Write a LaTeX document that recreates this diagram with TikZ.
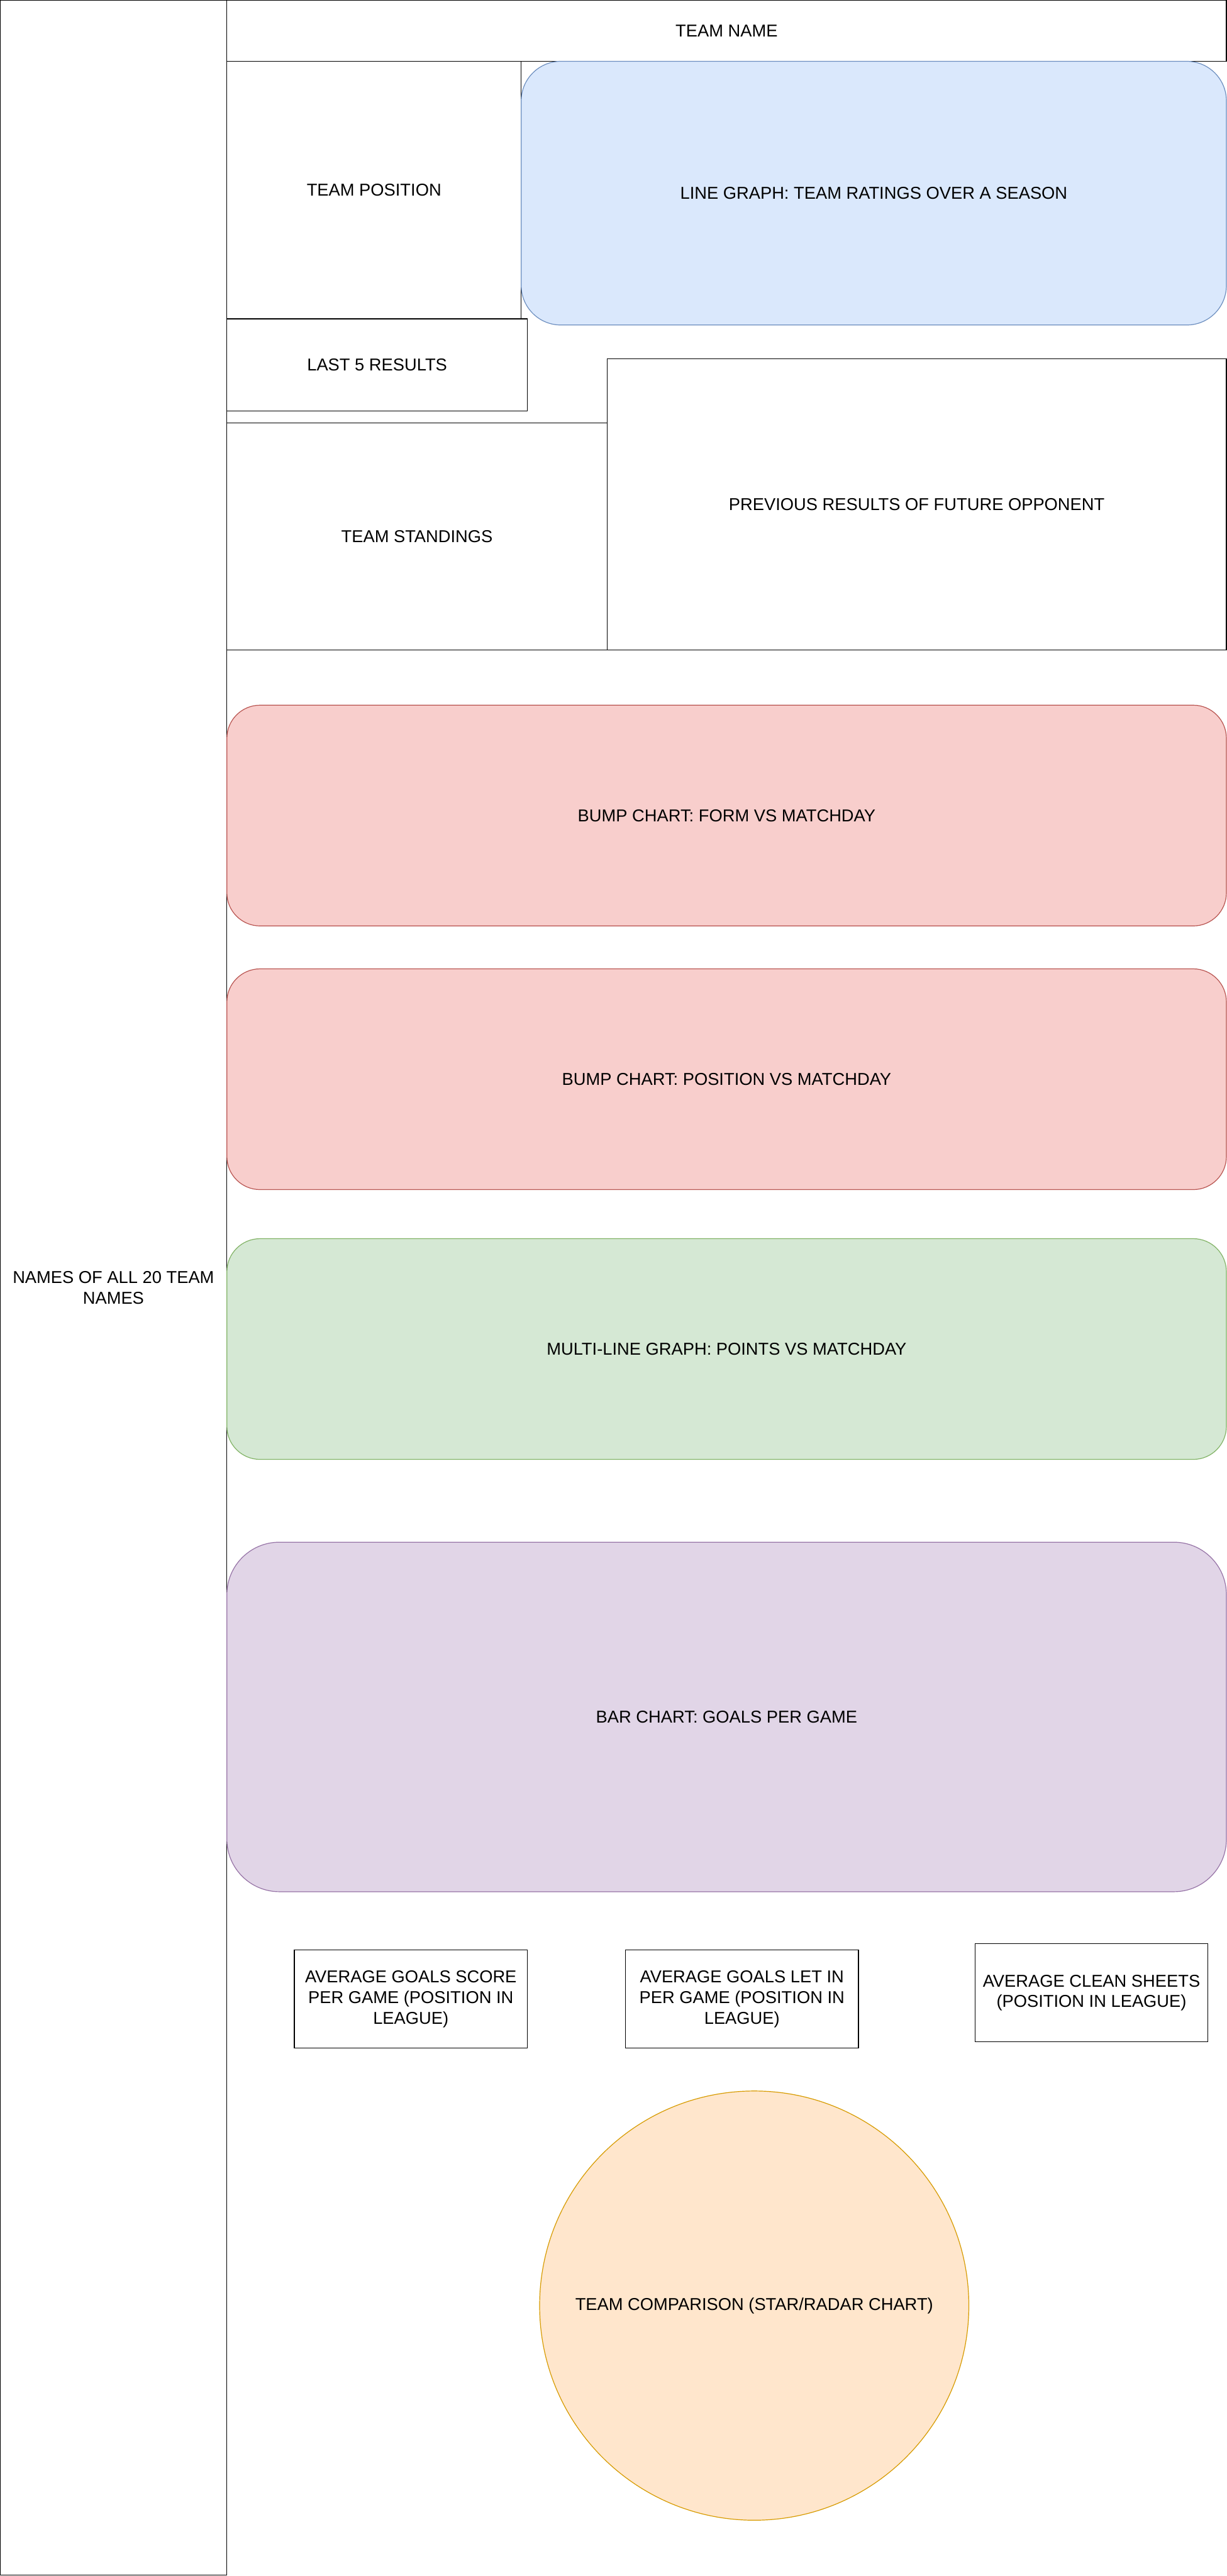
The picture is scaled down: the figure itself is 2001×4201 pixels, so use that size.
\documentclass[tikz,border=0pt]{standalone}
\usepackage{fontspec}
\setmainfont{Liberation Sans}
\usepackage{tikz}
\definecolor{ratingfill}{HTML}{DAE8FC}\definecolor{ratingline}{HTML}{6C8EBF}
\definecolor{bumpfill}{HTML}{F8CECC}\definecolor{bumpline}{HTML}{B85450}
\definecolor{pointsfill}{HTML}{D5E8D4}\definecolor{pointsline}{HTML}{82B366}
\definecolor{goalsfill}{HTML}{E1D5E7}\definecolor{goalsline}{HTML}{9673A6}
\definecolor{radarfill}{HTML}{FFE6CC}\definecolor{radarline}{HTML}{D79B00}
\begin{document}
\begin{tikzpicture}[x=.1mm,y=-.1mm,line width=.35pt,
  every node/.style={font=\fontsize{7.97}{9.56}\selectfont,inner sep=0pt,align=center},
  box/.style={draw,rectangle},
  chart/.style={draw=#1line,fill=#1fill,rectangle,rounded corners=5.4mm,minimum width=163mm,minimum height=36mm}]
\useasboundingbox (0,0) rectangle (2001,4201);
\node[box,minimum width=36.9mm,minimum height=419.9mm] (teams) at (185,2100) {NAMES OF ALL 20 TEAM\\NAMES};
\node[box,minimum width=163mm,minimum height=10mm] (teamname) at (1185,50) {TEAM NAME};
\node[box,minimum width=48mm,minimum height=42mm] (teampos) at (610,310) {TEAM POSITION};
\node[chart=rating,minimum width=115mm,minimum height=43mm,rounded corners=6.45mm] (ratings) at (1425,315) {LINE GRAPH: TEAM RATINGS OVER A SEASON};
\node[box,minimum width=49mm,minimum height=15mm] (lastfive) at (615,595) {LAST 5 RESULTS};
\node[box,minimum width=101mm,minimum height=47.5mm] (prevopp) at (1495,822.5) {PREVIOUS RESULTS OF FUTURE OPPONENT};
\node[box,minimum width=62mm,minimum height=37mm] (standings) at (680,875) {TEAM STANDINGS};
\node[chart=bump] (formbump) at (1185,1330) {BUMP CHART: FORM VS MATCHDAY};
\node[chart=bump] (posbump) at (1185,1760) {BUMP CHART: POSITION VS MATCHDAY};
\node[chart=points] (points) at (1185,2200) {MULTI-LINE GRAPH: POINTS VS MATCHDAY};
\node[chart=goals,minimum height=57mm,rounded corners=8.55mm] (goals) at (1185,2800) {BAR CHART: GOALS PER GAME};
\node[box,minimum width=38mm,minimum height=16mm] (scored) at (670,3260) {AVERAGE GOALS SCORE\\PER GAME (POSITION IN\\LEAGUE)};
\node[box,minimum width=38mm,minimum height=16mm] (letin) at (1210,3260) {AVERAGE GOALS LET IN\\PER GAME (POSITION IN\\LEAGUE)};
\node[box,minimum width=38mm,minimum height=16mm] (clean) at (1780,3250) {AVERAGE CLEAN SHEETS\\(POSITION IN LEAGUE)};
\node[draw=radarline,fill=radarfill,circle,minimum size=70mm] (radar) at (1230,3760) {TEAM COMPARISON (STAR/RADAR CHART)};
\end{tikzpicture}
\end{document}
